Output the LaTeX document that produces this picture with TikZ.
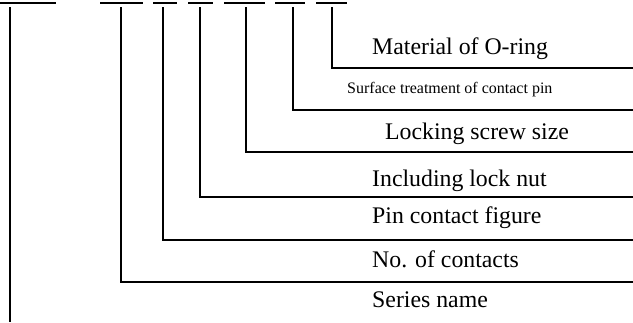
\documentclass[tikz,border=0pt]{standalone}
\usepackage{fontspec}
\setmainfont{Liberation Serif}
\begin{document}
\begin{tikzpicture}[x=1pt,y=-1pt,bar/.style={line width=2.4pt},lead/.style={line width=1.3pt},
    lbl/.style={anchor=base west,inner sep=0pt,font=\fontsize{23.8}{27}\selectfont},
    small/.style={anchor=base west,inner sep=0pt,font=\fontsize{16}{19}\selectfont}]
    \useasboundingbox (0,0) rectangle (633,322);

    \draw[bar] (0,3) -- (56,3);
    \draw[bar] (100,3) -- (143,3);
    \draw[bar] (153,3) -- (177,3);
    \draw[bar] (188,3) -- (213,3);
    \draw[bar] (224,3) -- (265,3);
    \draw[bar] (275,3) -- (305,3);
    \draw[bar] (316,3) -- (347,3);

    \node[lbl] (oring) at (372,54) {Material of O-ring};
    \node[small] (surface) at (347,93) {Surface treatment of contact pin};
    \node[lbl] (screw) at (385,139) {Locking screw size};
    \node[lbl] (nut) at (372,186) {Including lock nut};
    \node[lbl] (figure) at (372,223) {Pin contact figure};
    \node[lbl] (contacts) at (372,267) {No. of contacts};
    \node[lbl] (series) at (372,307) {Series name};

    \coordinate (c1) at (10,7);
    \coordinate (c2) at (121,7);
    \coordinate (c3) at (163,7);
    \coordinate (c4) at (200,7);
    \coordinate (c5) at (246,7);
    \coordinate (c6) at (293,7);
    \coordinate (c7) at (332,7);
    \coordinate (e1) at (10,322);
    \coordinate (e2) at (633,282);
    \coordinate (e3) at (633,240);
    \coordinate (e4) at (633,197);
    \coordinate (e5) at (633,152);
    \coordinate (e6) at (633,110);
    \coordinate (e7) at (633,68);

    \draw[lead] (c1) -- (e1);
    \draw[lead] (c2) |- (e2);
    \draw[lead] (c3) |- (e3);
    \draw[lead] (c4) |- (e4);
    \draw[lead] (c5) |- (e5);
    \draw[lead] (c6) |- (e6);
    \draw[lead] (c7) |- (e7);
\end{tikzpicture}
\end{document}
